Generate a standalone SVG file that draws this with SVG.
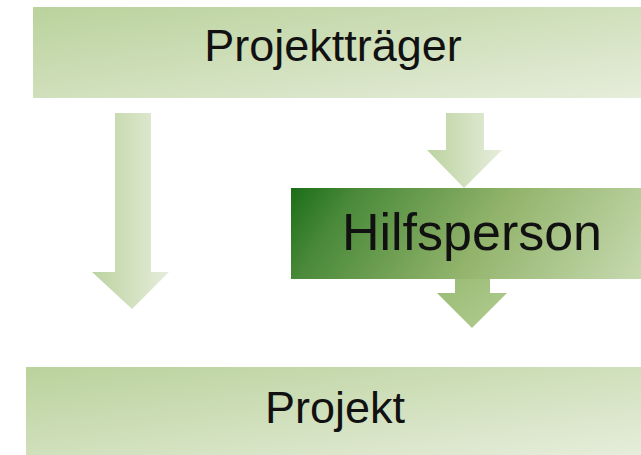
<svg xmlns="http://www.w3.org/2000/svg" width="641" height="455" viewBox="0 0 641 455">
<defs>
<linearGradient id="boxG" x1="0" y1="0" x2="1" y2="1">
<stop offset="0" stop-color="#bad29c"/>
<stop offset="1" stop-color="#e6eddb"/>
</linearGradient>
<linearGradient id="arrG" x1="0" y1="0" x2="1" y2="0">
<stop offset="0" stop-color="#bcd3a0"/>
<stop offset="1" stop-color="#e6eddb"/>
</linearGradient>
<linearGradient id="hilfG" gradientUnits="userSpaceOnUse" x1="291" y1="188" x2="600" y2="400">
<stop offset="0" stop-color="#1c6d18"/>
<stop offset="0.15" stop-color="#4a8a3a"/>
<stop offset="0.5" stop-color="#93b46c"/>
<stop offset="1" stop-color="#d2e2bf"/>
</linearGradient>
<linearGradient id="arr2G" x1="0" y1="0" x2="1" y2="1">
<stop offset="0" stop-color="#98bb73"/>
<stop offset="1" stop-color="#b2cc92"/>
</linearGradient>
<style>
.lbl{font-family:"Liberation Sans",Arial,sans-serif;fill:#111;text-anchor:middle}
</style>
</defs>
<g id="connectors">
<polygon fill="url(#arrG)" points="115,113 151,113 151,272 169,272 132,309 92,272 115,272"/>
<polygon fill="url(#arrG)" points="446,113 484,113 484,150 502,150 464,188 427,150 446,150"/>
<polygon fill="url(#arr2G)" points="455,279 490,279 490,293 507,293 472,328 437,293 455,293"/>
</g>
<g id="projekttraeger">
<rect x="33" y="7" width="608" height="91" fill="url(#boxG)"/>
<text class="lbl" x="333" y="61" font-size="45">Projektträger</text>
</g>
<g id="hilfsperson">
<rect x="291" y="188" width="350" height="91" fill="url(#hilfG)"/>
<text class="lbl" x="472" y="250" font-size="52">Hilfsperson</text>
</g>
<g id="projekt">
<rect x="26" y="367" width="615" height="88" fill="url(#boxG)"/>
<text class="lbl" x="335" y="423" font-size="45">Projekt</text>
</g>
</svg>
